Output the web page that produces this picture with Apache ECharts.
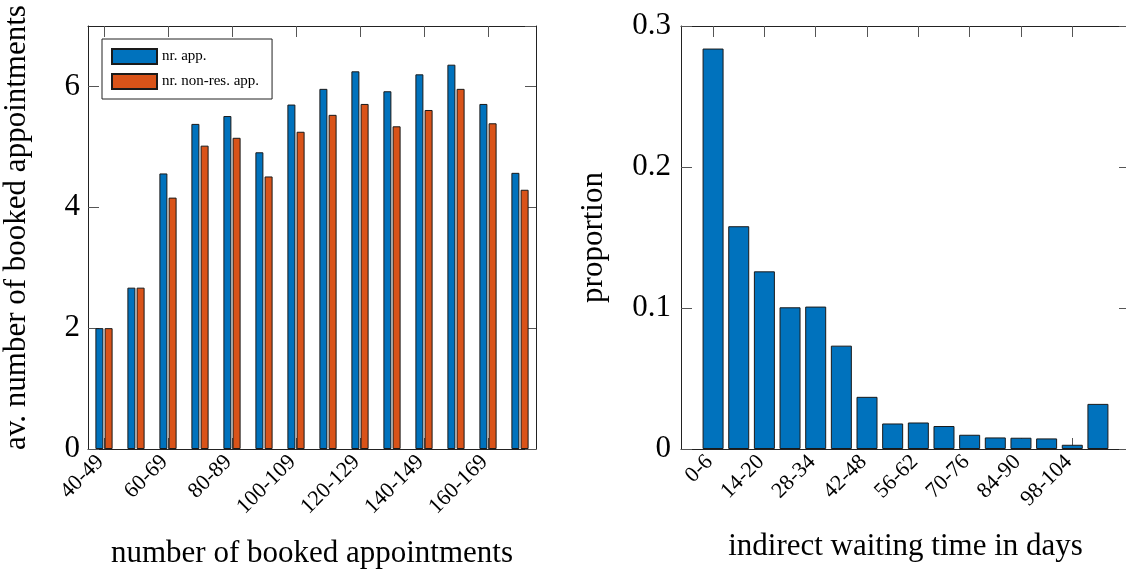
<!DOCTYPE html>
<html>
<head>
<meta charset="utf-8">
<script src="https://cdn.jsdelivr.net/npm/echarts@6/dist/echarts.min.js"></script>
<style>html,body{margin:0;padding:0;background:#fff}#c{width:1126px;height:570px}</style>
</head>
<body>
<div id="c"></div>
<script>
// ---- data ----
const bookedCats = ['40-49','50-59','60-69','70-79','80-89','90-99','100-109','110-119','120-129','130-139','140-149','150-159','160-169','170-179'];
const nrApp      = [2.00, 2.67, 4.56, 5.38, 5.51, 4.91, 5.70, 5.96, 6.25, 5.92, 6.20, 6.36, 5.71, 4.57];
const nrNonRes   = [2.00, 2.67, 4.16, 5.02, 5.15, 4.51, 5.25, 5.53, 5.71, 5.34, 5.61, 5.96, 5.39, 4.29];
const waitCats   = ['0-6','7-13','14-20','21-27','28-34','35-41','42-48','49-55','56-62','63-69','70-76','77-83','84-90','91-97','98-104','≥105'];
const proportion = [0.284, 0.158, 0.126, 0.1005, 0.101, 0.0733, 0.037, 0.0181, 0.0188, 0.0163, 0.0101, 0.0082, 0.0080, 0.0075, 0.0030, 0.0320];

const FONT = 'Liberation Serif';
const frame = {show: true, onZero: false, lineStyle: {color: '#222', width: 1}};
const tickIn = {show: true, inside: true, length: 11, lineStyle: {color: '#555', width: 1}};
const BLUE = '#0072BD', ORANGE = '#D95319';

// right panel: frame spans 17.5 category bands, bars occupy the middle 16
const R_LEFT = 681, R_WIDTH = 449;
const band = R_WIDTH / (waitCats.length + 1.5);
const R_PAD = 0.75 * band;

const chart = echarts.init(document.getElementById('c'), null, {renderer: 'canvas'});
chart.setOption({
  animation: false,
  textStyle: {fontFamily: FONT, color: '#000'},
  grid: [
    {left: 88, top: 26, width: 448, height: 423, containLabel: false, outerBoundsMode: 'none'},
    {left: R_LEFT + R_PAD, top: 26, width: band * waitCats.length, height: 423, containLabel: false, outerBoundsMode: 'none'},
    {left: R_LEFT, top: 26, width: R_WIDTH, height: 423, containLabel: false, outerBoundsMode: 'none'}
  ],
  legend: {
    data: ['nr. app.', 'nr. non-res. app.'],
    orient: 'vertical', left: 102, top: 39,
    itemWidth: 45, itemHeight: 15, itemGap: 8,
    padding: [9, 13, 9, 9],
    backgroundColor: '#fff', borderColor: '#222', borderWidth: 1,
    textStyle: {fontFamily: FONT, fontSize: 15, color: '#000'},
    icon: 'rect'
  },
  xAxis: [
    {gridIndex: 0, type: 'category', data: bookedCats, position: 'bottom', boundaryGap: true,
     axisLine: frame, axisTick: Object.assign({interval: 1, alignWithLabel: true}, tickIn),
     axisLabel: {interval: 1, rotate: 45, fontSize: 22, fontFamily: FONT, color: '#000', margin: 6, padding: [0, 5, 0, 0]},
     name: 'number of booked appointments', nameLocation: 'middle', nameGap: 89,
     nameTextStyle: {fontSize: 31, fontFamily: FONT, color: '#000'}, splitLine: {show: false}},
    {gridIndex: 0, type: 'category', data: bookedCats, position: 'top', boundaryGap: true,
     axisLine: frame, axisTick: Object.assign({interval: 1, alignWithLabel: true}, tickIn),
     axisLabel: {show: false, interval: 1}, splitLine: {show: false}},
    {gridIndex: 1, type: 'category', data: waitCats, position: 'bottom', boundaryGap: true,
     axisLine: frame, axisTick: Object.assign({interval: 1, alignWithLabel: true}, tickIn),
     axisLabel: {interval: 1, rotate: 45, fontSize: 22, fontFamily: FONT, color: '#000', margin: 6, padding: [0, 5, 0, 0]},
     name: 'indirect waiting time in days', nameLocation: 'middle', nameGap: 82,
     nameTextStyle: {fontSize: 31, fontFamily: FONT, color: '#000'}, splitLine: {show: false}},
    {gridIndex: 1, type: 'category', data: waitCats, position: 'top', boundaryGap: true,
     axisLine: frame, axisTick: Object.assign({interval: 1, alignWithLabel: true}, tickIn),
     axisLabel: {show: false, interval: 1}, splitLine: {show: false}},
    // full-width frame lines of the right panel
    {gridIndex: 2, type: 'value', min: 0, max: 1, position: 'bottom',
     axisLine: frame, axisTick: {show: false}, axisLabel: {show: false}, splitLine: {show: false}},
    {gridIndex: 2, type: 'value', min: 0, max: 1, position: 'top',
     axisLine: frame, axisTick: {show: false}, axisLabel: {show: false}, splitLine: {show: false}}
  ],
  yAxis: [
    {gridIndex: 0, type: 'value', min: 0, max: 7, interval: 2, position: 'left',
     axisLine: frame, axisTick: tickIn,
     axisLabel: {fontSize: 31, fontFamily: FONT, color: '#000', margin: 8, showMaxLabel: false},
     name: 'av. number of booked appointments', nameLocation: 'middle', nameGap: 56, nameRotate: 90,
     nameTextStyle: {fontSize: 31, fontFamily: FONT, color: '#000', padding: [0, 0, 0, 20]},
     splitLine: {show: false}},
    {gridIndex: 0, type: 'value', min: 0, max: 7, interval: 2, position: 'right',
     axisLine: frame, axisTick: tickIn,
     axisLabel: {show: false}, splitLine: {show: false}},
    {gridIndex: 1, type: 'value', min: 0, max: 0.3, interval: 0.1, position: 'left', offset: R_PAD,
     axisLine: frame, axisTick: tickIn,
     axisLabel: {fontSize: 31, fontFamily: FONT, color: '#000', margin: 10,
                 formatter: v => (Math.abs(v) < 1e-9 ? '0' : (+v).toFixed(1))},
     name: 'proportion', nameLocation: 'middle', nameGap: 72, nameRotate: 90,
     nameTextStyle: {fontSize: 31, fontFamily: FONT, color: '#000'},
     splitLine: {show: false}},
    {gridIndex: 1, type: 'value', min: 0, max: 0.3, interval: 0.1, position: 'right', offset: R_PAD,
     axisLine: frame, axisTick: tickIn,
     axisLabel: {show: false}, splitLine: {show: false}},
    {gridIndex: 2, type: 'value', min: 0, max: 1, show: false}
  ],
  series: [
    {name: 'nr. app.', type: 'bar', xAxisIndex: 0, yAxisIndex: 0, data: nrApp,
     barWidth: 8, barGap: '15%',
     itemStyle: {color: BLUE, borderColor: '#1a1a1a', borderWidth: 1}},
    {name: 'nr. non-res. app.', type: 'bar', xAxisIndex: 0, yAxisIndex: 0, data: nrNonRes,
     barWidth: 8, barGap: '15%',
     itemStyle: {color: ORANGE, borderColor: '#1a1a1a', borderWidth: 1}},
    {name: 'proportion', type: 'bar', xAxisIndex: 2, yAxisIndex: 2,
     data: proportion, barWidth: 21,
     itemStyle: {color: BLUE, borderColor: '#1a1a1a', borderWidth: 1}}
  ]
});
</script>
</body>
</html>
